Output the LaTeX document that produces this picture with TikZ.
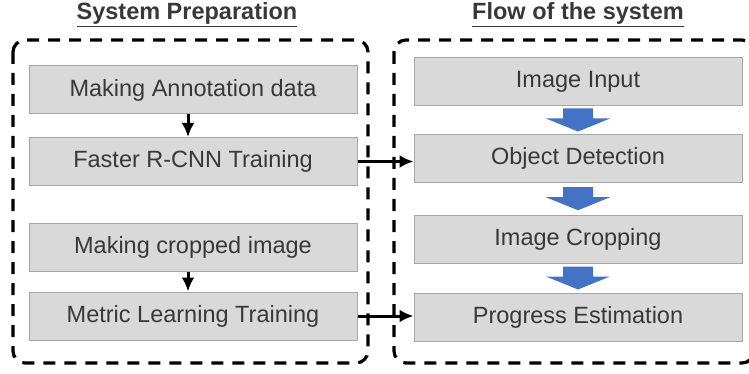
\documentclass[tikz,border=0pt]{standalone}
\usepackage{fontspec}
\setmainfont{Liberation Sans}
\usetikzlibrary{arrows.meta, calc}

\definecolor{boxgray}{RGB}{217,217,217}
\definecolor{edgegray}{RGB}{166,166,166}
\definecolor{textgray}{RGB}{56,56,56}
\definecolor{flowblue}{RGB}{68,114,196}

\tikzset{
	stepbox/.style = {draw = edgegray, line width = 1pt, fill = boxgray, text = textgray, minimum width = 328pt, minimum height = 48pt, inner sep = 0pt, font = \fontsize{23.5}{28}\selectfont},
	ttl/.style = {anchor = base, text = textgray, font = \fontsize{23.5}{28}\selectfont\bfseries},
	group/.style = {line width = 3.2pt, dash pattern = on 12pt off 9pt, rounded corners = 12pt},
	link/.style = {-{Latex[length = 14pt, width = 13pt]}, line width = 3pt}
}

\begin{document}
\begin{tikzpicture}[x = 1pt, y = -1pt]

\useasboundingbox (0, 0) rectangle (749, 374);

% Titles

\node [ttl] (prepttl) at (187, 19.5) {\underline{System Preparation}};
\node [ttl] (flowttl) at (578, 19.5) {\underline{Flow of the system}};

% Frames

\draw [group] (13, 40) rectangle (368, 363);
\draw [group] (394, 40) rectangle (754, 363);

% Preparation

\node [stepbox] (annot) at (193, 90) {Making Annotation data};
\node [stepbox] (frcnn) at (193, 161.5) {Faster R-CNN Training};
\node [stepbox] (cropimg) at (193, 247.5) {Making cropped image};
\node [stepbox] (metric) at (193, 316) {Metric Learning Training};

% Flow

\node [stepbox] (input) at (578, 81.5) {Image Input};
\node [stepbox] (detect) at (578, 158.5) {Object Detection};
\node [stepbox] (cropping) at (578, 239) {Image Cropping};
\node [stepbox] (progress) at (578, 317) {Progress Estimation};

% Arrows

\draw [link] ([xshift = -5pt]annot.south) -- ([xshift = -5pt]frcnn.north);
\draw [link] ([xshift = -5pt]cropimg.south) -- ([xshift = -5pt]metric.north);
\draw [link] (frcnn.east) -- (frcnn.east -| detect.west);
\draw [link] (metric.east) -- (metric.east -| progress.west);

\foreach \a/\b in {input/detect, detect/cropping, cropping/progress}
	\fill [flowblue] ($(\a.south)!0.5!(\b.north)$) ++(-15, -11.5) -- ++(30, 0) -- ++(0, 10) -- ++(17, 0) -- ++(-32, 13) -- ++(-32, -13) -- ++(17, 0) -- cycle;

\end{tikzpicture}
\end{document}
